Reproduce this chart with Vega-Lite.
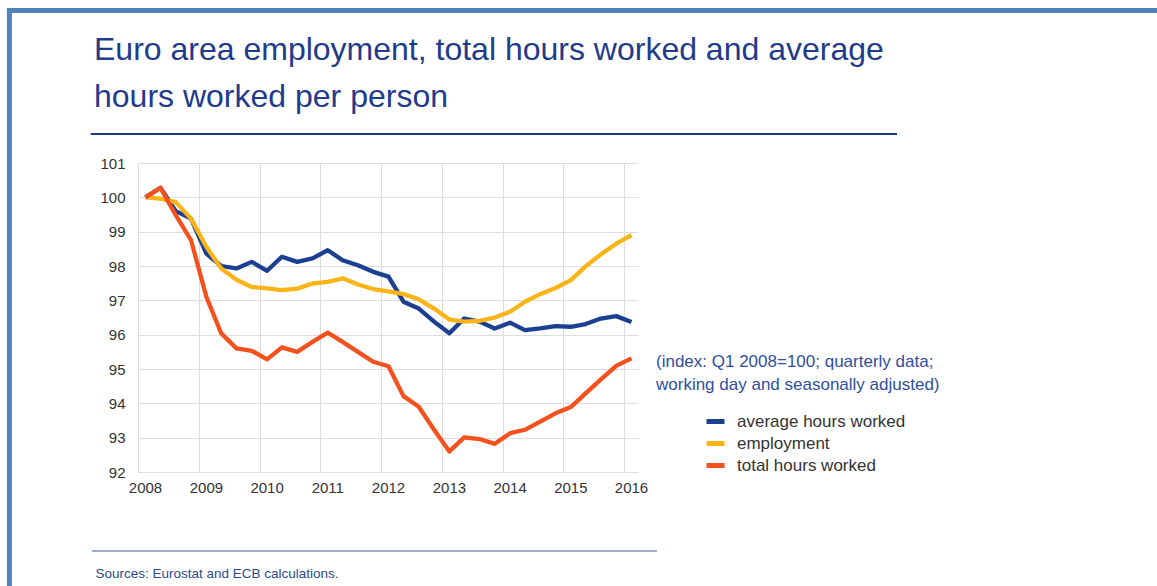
{
  "$schema": "https://vega.github.io/schema/vega-lite/v6.json",
  "autosize": {"type": "none"},
  "padding": {"left": 138, "top": 163, "right": 519, "bottom": 114},
  "width": 500,
  "height": 309,
  "background": "white",
  "config": {
    "view": {"stroke": null},
    "font": "Liberation Sans"
  },
  "title": {
    "text": ["Euro area employment, total hours worked and average", "hours worked per person"],
    "anchor": "start",
    "frame": "group",
    "fontSize": 32,
    "fontWeight": "normal",
    "font": "Liberation Sans",
    "color": "#1f3b8c",
    "lineHeight": 47,
    "baseline": "alphabetic",
    "dx": -44,
    "dy": 133,
    "offset": 0
  },
  "layer": [
    {
      "data": {
        "values": [
          {"d": "2008-02-15", "average hours worked": 100, "employment": 100, "total hours worked": 100},
          {"d": "2008-05-15", "average hours worked": 100.28, "employment": 99.96, "total hours worked": 100.28},
          {"d": "2008-08-15", "average hours worked": 99.6, "employment": 99.86, "total hours worked": 99.48},
          {"d": "2008-11-15", "average hours worked": 99.38, "employment": 99.38, "total hours worked": 98.75},
          {"d": "2009-02-15", "average hours worked": 98.36, "employment": 98.56, "total hours worked": 97.1},
          {"d": "2009-05-15", "average hours worked": 98.0, "employment": 97.93, "total hours worked": 96.04},
          {"d": "2009-08-15", "average hours worked": 97.93, "employment": 97.6, "total hours worked": 95.6},
          {"d": "2009-11-15", "average hours worked": 98.12, "employment": 97.39, "total hours worked": 95.53},
          {"d": "2010-02-15", "average hours worked": 97.86, "employment": 97.35, "total hours worked": 95.28},
          {"d": "2010-05-15", "average hours worked": 98.27, "employment": 97.3, "total hours worked": 95.63},
          {"d": "2010-08-15", "average hours worked": 98.12, "employment": 97.34, "total hours worked": 95.5},
          {"d": "2010-11-15", "average hours worked": 98.22, "employment": 97.49, "total hours worked": 95.79},
          {"d": "2011-02-15", "average hours worked": 98.46, "employment": 97.54, "total hours worked": 96.06},
          {"d": "2011-05-15", "average hours worked": 98.17, "employment": 97.64, "total hours worked": 95.79},
          {"d": "2011-08-15", "average hours worked": 98.02, "employment": 97.46, "total hours worked": 95.5},
          {"d": "2011-11-15", "average hours worked": 97.83, "employment": 97.33, "total hours worked": 95.21},
          {"d": "2012-02-15", "average hours worked": 97.69, "employment": 97.26, "total hours worked": 95.08},
          {"d": "2012-05-15", "average hours worked": 96.96, "employment": 97.18, "total hours worked": 94.21},
          {"d": "2012-08-15", "average hours worked": 96.76, "employment": 97.03, "total hours worked": 93.9},
          {"d": "2012-11-15", "average hours worked": 96.38, "employment": 96.76, "total hours worked": 93.23},
          {"d": "2013-02-15", "average hours worked": 96.04, "employment": 96.44, "total hours worked": 92.6},
          {"d": "2013-05-15", "average hours worked": 96.47, "employment": 96.38, "total hours worked": 93.01},
          {"d": "2013-08-15", "average hours worked": 96.38, "employment": 96.4, "total hours worked": 92.96},
          {"d": "2013-11-15", "average hours worked": 96.18, "employment": 96.5, "total hours worked": 92.82},
          {"d": "2014-02-15", "average hours worked": 96.35, "employment": 96.67, "total hours worked": 93.13},
          {"d": "2014-05-15", "average hours worked": 96.13, "employment": 96.96, "total hours worked": 93.23},
          {"d": "2014-08-15", "average hours worked": 96.18, "employment": 97.18, "total hours worked": 93.47},
          {"d": "2014-11-15", "average hours worked": 96.25, "employment": 97.36, "total hours worked": 93.71},
          {"d": "2015-02-15", "average hours worked": 96.23, "employment": 97.59, "total hours worked": 93.89},
          {"d": "2015-05-15", "average hours worked": 96.31, "employment": 97.99, "total hours worked": 94.29},
          {"d": "2015-08-15", "average hours worked": 96.47, "employment": 98.34, "total hours worked": 94.7},
          {"d": "2015-11-15", "average hours worked": 96.54, "employment": 98.65, "total hours worked": 95.09},
          {"d": "2016-02-15", "average hours worked": 96.37, "employment": 98.9, "total hours worked": 95.31}
        ]
      },
      "transform": [
        {"fold": ["average hours worked", "employment", "total hours worked"], "as": ["series", "value"]}
      ],
      "mark": {"type": "line", "strokeWidth": 4.3, "strokeJoin": "round", "strokeCap": "butt"},
      "encoding": {
        "x": {
          "field": "d",
          "type": "temporal",
          "scale": {"domain": [{"year": 2008, "month": 1, "date": 1}, {"year": 2016, "month": 3, "date": 25}], "nice": false},
          "axis": {
            "format": "%Y",
            "tickCount": {"interval": "year", "step": 1},
            "domain": false,
            "ticks": false,
            "grid": true,
            "gridColor": "#dddddd",
            "labelFontSize": 15,
            "labelColor": "#333333",
            "labelPadding": 8,
            "labelOffset": 7,
            "labelFlush": false,
            "labelOverlap": false,
            "title": "Sources: Eurostat and ECB calculations.",
            "titleFontSize": 13.5,
            "titleFontWeight": "normal",
            "titleColor": "#2b4a8b",
            "titleAlign": "left",
            "titleAnchor": "start",
            "titleBaseline": "alphabetic",
            "titleX": -43,
            "titleY": 105
          }
        },
        "y": {
          "field": "value",
          "type": "quantitative",
          "scale": {"domain": [92, 101], "nice": false, "zero": false},
          "axis": {
            "values": [92, 93, 94, 95, 96, 97, 98, 99, 100, 101],
            "tickCount": 10,
            "domain": false,
            "ticks": false,
            "grid": true,
            "gridColor": "#dddddd",
            "labelFontSize": 15,
            "labelColor": "#333333",
            "labelPadding": 13,
            "labelOverlap": false,
            "labelFlush": false,
            "title": null
          }
        },
        "color": {
          "field": "series",
          "type": "nominal",
          "scale": {
            "domain": ["average hours worked", "employment", "total hours worked"],
            "range": ["#1b3f91", "#fbb417", "#f4511e"]
          },
          "legend": {
            "orient": "none",
            "legendX": 518,
            "legendY": 191,
            "padding": 0,
            "title": ["(index: Q1 2008=100; quarterly data;", "working day and seasonally adjusted)"],
            "titleFontSize": 17,
            "titleFontWeight": "normal",
            "titleColor": "#2f509e",
            "titleLineHeight": 23,
            "titleLimit": 0,
            "titlePadding": 16,
            "symbolType": "stroke",
            "symbolSize": 324,
            "symbolStrokeWidth": 5,
            "symbolOffset": 48,
            "labelFontSize": 17,
            "labelColor": "#333333",
            "labelOffset": 10,
            "labelLimit": 0,
            "rowPadding": 0
          }
        }
      }
    },
    {
      "data": {"values": [{}]},
      "mark": {"type": "rule", "color": "#4f81bd", "strokeWidth": 5},
      "encoding": {
        "x": {"datum": {"year": 2005, "month": 11, "date": 4}, "type": "temporal"},
        "x2": {"datum": {"year": 2026, "month": 1, "date": 1}},
        "y": {"datum": 105.44, "type": "quantitative"}
      }
    },
    {
      "data": {"values": [{}]},
      "mark": {"type": "rule", "color": "#4f81bd", "strokeWidth": 5},
      "encoding": {
        "x": {"datum": {"year": 2005, "month": 11, "date": 19}, "type": "temporal"},
        "y": {"datum": 105.51, "type": "quantitative"},
        "y2": {"datum": 88}
      }
    },
    {
      "data": {"values": [{}]},
      "mark": {"type": "rule", "color": "#1f3a7a", "strokeWidth": 2},
      "encoding": {
        "x": {"datum": {"year": 2007, "month": 3, "date": 23}, "type": "temporal"},
        "x2": {"datum": {"year": 2020, "month": 6, "date": 29}},
        "y": {"datum": 101.845, "type": "quantitative"}
      }
    },
    {
      "data": {"values": [{}]},
      "mark": {"type": "rule", "color": "#8093bd", "strokeWidth": 1.5},
      "encoding": {
        "x": {"datum": {"year": 2007, "month": 3, "date": 30}, "type": "temporal"},
        "x2": {"datum": {"year": 2016, "month": 7, "date": 17}},
        "y": {"datum": 89.699, "type": "quantitative"}
      }
    }
  ]
}
